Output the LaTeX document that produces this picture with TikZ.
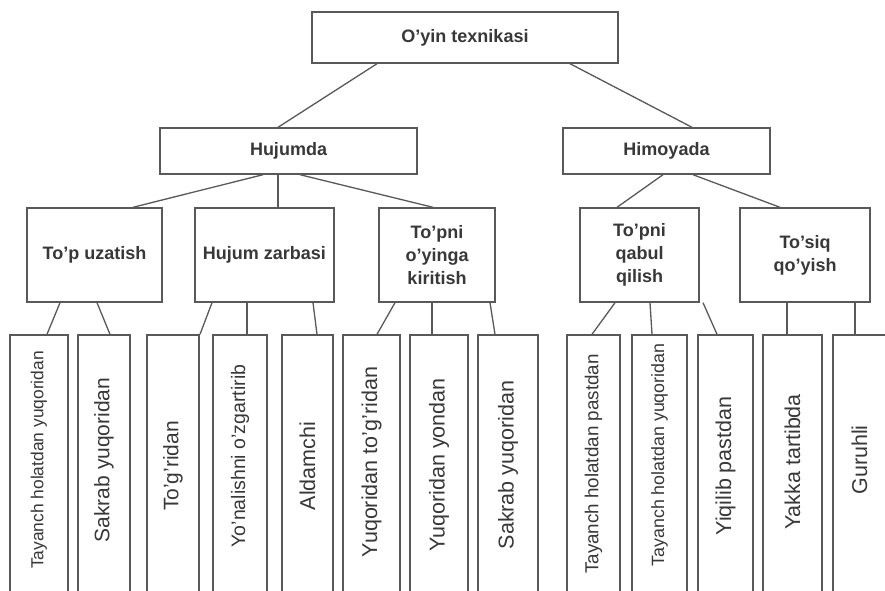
\documentclass[tikz,border=0pt]{standalone}
\usepackage{fontspec}
\setmainfont{Liberation Sans}
\definecolor{ink}{gray}{0.22}
\definecolor{wire}{gray}{0.35}
\tikzset{
  box/.style={draw=wire, line width=1.4pt, inner sep=0pt, text=ink, align=center},
  headbox/.style={box, font=\bfseries\fontsize{18}{23}\selectfont},
  leafbox/.style={box, minimum height=260pt},
  leaftext/.style={rotate=90, text=ink, inner sep=0pt, font=\fontsize{#1}{#1}\selectfont},
  link/.style={draw=wire, line width=1.3pt},
}
\begin{document}
\begin{tikzpicture}[x=1pt,y=-1pt]
\useasboundingbox (0,0) rectangle (885,590);
\fill[white] (0,0) rectangle (885,590);
\clip (0,0) rectangle (885,590);
% level 0
\node[headbox, minimum width=306pt, minimum height=51pt] (top) at (465,37.5) {O'yin texnikasi};
% level 1
\node[headbox, minimum width=257pt, minimum height=46pt] (huj) at (288.5,151) {Hujumda};
\node[headbox, minimum width=207pt, minimum height=46pt] (him) at (666.5,151) {Himoyada};
% level 2
\node[headbox, minimum width=135pt, minimum height=94pt] (u1) at (94.5,255) {To'p uzatish};
\node[headbox, minimum width=139pt, minimum height=94pt] (u2) at (264.5,255) {Hujum zarbasi};
\node[headbox, minimum width=116pt, minimum height=94pt] (u3) at (437,255) {To'pni\\o'yinga\\kiritish};
\node[headbox, minimum width=119pt, minimum height=94pt] (u4) at (639.5,255) {To'pni\\qabul\\qilish};
\node[headbox, minimum width=130pt, minimum height=94pt] (u5) at (805,255) {To'siq\\qo'yish};
% level 3
\node[leafbox, minimum width=58pt] (b1) at (39,465) {};
\node[leaftext=17.4] (t1) at (39,460) {Tayanch holatdan yuqoridan};
\node[leafbox, minimum width=52pt] (b2) at (104,465) {};
\node[leaftext=21] (t2) at (104,460) {Sakrab yuqoridan};
\node[leafbox, minimum width=52pt] (b3) at (173,465) {};
\node[leaftext=21] (t3) at (173,466) {To'g'ridan};
\node[leafbox, minimum width=54pt] (b4) at (240,465) {};
\node[leaftext=19.5] (t4) at (240,456) {Yo'nalishni o'zgartirib};
\node[leafbox, minimum width=51pt] (b5) at (307.5,465) {};
\node[leaftext=21.5] (t5) at (307.5,466) {Aldamchi};
\node[leafbox, minimum width=57pt] (b6) at (371.5,465) {};
\node[leaftext=21.5] (t6) at (371.5,462) {Yuqoridan to'g'ridan};
\node[leafbox, minimum width=58pt] (b7) at (439,465) {};
\node[leaftext=21.5] (t7) at (439,465) {Yuqoridan yondan};
\node[leafbox, minimum width=60pt] (b8) at (508,465) {};
\node[leaftext=21.5] (t8) at (508,465) {Sakrab yuqoridan};
\node[leafbox, minimum width=53pt] (b9) at (593.5,465) {};
\node[leaftext=18.8] (t9) at (593.5,464) {Tayanch holatdan pastdan};
\node[leafbox, minimum width=55pt] (b10) at (659.5,465) {};
\node[leaftext=17.8] (t10) at (659.5,455) {Tayanch holatdan yuqoridan};
\node[leafbox, minimum width=55pt] (b11) at (725.5,465) {};
\node[leaftext=21.5] (t11) at (725.5,466) {Yiqilib pastdan};
\node[leafbox, minimum width=59pt] (b12) at (792.5,465) {};
\node[leaftext=21.5] (t12) at (792.5,462) {Yakka tartibda};
\node[leafbox, minimum width=53pt] (b13) at (859.5,465) {};
\node[leaftext=21.5] (t13) at (859.5,460) {Guruhli};
% connectors level 0-1
\draw[link] (top.south -| 377,0) -- (huj.north -| 278,0);
\draw[link] (top.south -| 570,0) -- (him.north -| 692,0);
% level 1-2
\draw[link] (huj.south -| 263,0) -- (u1.north -| 133,0);
\draw[link] (huj.south -| 278,0) -- (u2.north -| 278,0);
\draw[link] (huj.south -| 300,0) -- (u3.north -| 433,0);
\draw[link] (him.south -| 663,0) -- (u4.north -| 617,0);
\draw[link] (him.south -| 693,0) -- (u5.north -| 780,0);
% level 2-3
\draw[link] (u1.south -| 60,0) -- (b1.north -| 47,0);
\draw[link] (u1.south -| 97,0) -- (b2.north -| 110,0);
\draw[link] (u2.south -| 212,0) -- (b3.north -| 200,0);
\draw[link] (u2.south -| 247,0) -- (b4.north -| 247,0);
\draw[link] (u2.south -| 313,0) -- (b5.north -| 317,0);
\draw[link] (u3.south -| 395,0) -- (b6.north -| 377,0);
\draw[link] (u3.south -| 432,0) -- (b7.north -| 432,0);
\draw[link] (u3.south -| 490,0) -- (b8.north -| 495,0);
\draw[link] (u4.south -| 615,0) -- (b9.north -| 592,0);
\draw[link] (u4.south -| 650,0) -- (b10.north -| 652,0);
\draw[link] (u4.south -| 703,0) -- (b11.north -| 717,0);
\draw[link] (u5.south -| 787,0) -- (b12.north -| 787,0);
\draw[link] (u5.south -| 855,0) -- (b13.north -| 855,0);
\end{tikzpicture}
\end{document}
